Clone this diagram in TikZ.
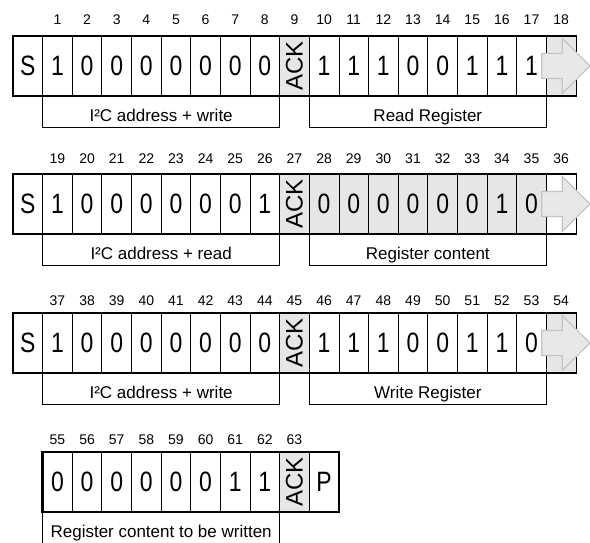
\documentclass[tikz,border=0pt]{standalone}
\usepackage{fontspec}
\setmainfont{Liberation Sans}
\newfontfamily\narrowf[FakeStretch=0.82]{Liberation Sans}
\usepackage{graphicx}
\definecolor{ackgrey}{HTML}{E6E6E6}
\definecolor{arrfill}{HTML}{E8E8E8}
\definecolor{arrdraw}{HTML}{C4C4C4}
\newcommand\ackt{\rotatebox{90}{\rmfamily\fontsize{24}{24}\selectfont ACK}}
\newcommand\cellrow[3]{%
  \foreach \i/\t/\f in {#3}{%
    \node[cell, fill=\f] (#1-\i) at ({13+\i*29.63},#2) {\t};}}
\newcommand\numrow[4]{%
  \foreach \i in {1,...,#3}{%
    \pgfmathtruncatemacro\n{\i+#4}%
    \node[num] (#1n\i) at ({13+\i*29.63+14.815},#2) {\n};}}
\newcommand\arrowat[1]{%
  \draw[arr, shift={(#1.center)}] (-19.5,-12.5) -- (1.1,-12.5) -- (1.1,-27.5) -- (28.8,0) -- (1.1,27.5) -- (1.1,12.5) -- (-19.5,12.5) -- cycle;}
\begin{document}
\begin{tikzpicture}[x=1pt,y=-1pt,
  cell/.style={draw=black,line width=0.8pt,anchor=north west,minimum width=29.63pt,minimum height=60pt,inner sep=0pt,outer sep=0pt,font=\narrowf\fontsize{28}{28}\selectfont},
  num/.style={inner sep=0pt,font=\fontsize{14}{14}\selectfont},
  lbl/.style={draw=black,line width=0.8pt,anchor=north west,minimum width=237.04pt,minimum height=31.5pt,inner sep=0pt,outer sep=0pt,text height=20pt,text depth=0pt,font=\fontsize{17}{17}\selectfont},
  frame/.style={line width=2.6pt,line cap=rect},
  arr/.style={fill=arrfill,draw=arrdraw,line width=1.2pt,line join=miter}]
\useasboundingbox (0,0) rectangle (590,543);

% ---------- row 1 ----------
\cellrow{a}{36}{0/S/white,1/1/white,2/0/white,3/0/white,4/0/white,5/0/white,6/0/white,7/0/white,8/0/white,9/\ackt/ackgrey,10/1/white,11/1/white,12/1/white,13/0/white,14/0/white,15/1/white,16/1/white,17/1/white,18//ackgrey}
\numrow{a}{20}{18}{0}
\node[lbl] (al1) at (a-1.south west) {I²C address + write};
\node[lbl] (al2) at (a-10.south west) {Read Register};
\draw[frame] (a-18.north east) -- (a-0.north west) -- (a-0.south west) -- (a-18.south east);
\arrowat{a-18}

% ---------- row 2 ----------
\cellrow{b}{174}{0/S/white,1/1/white,2/0/white,3/0/white,4/0/white,5/0/white,6/0/white,7/0/white,8/1/white,9/\ackt/ackgrey,10/0/ackgrey,11/0/ackgrey,12/0/ackgrey,13/0/ackgrey,14/0/ackgrey,15/0/ackgrey,16/1/ackgrey,17/0/ackgrey,18//white}
\numrow{b}{158.5}{18}{18}
\node[lbl] (bl1) at (b-1.south west) {I²C address + read};
\node[lbl] (bl2) at (b-10.south west) {Register content};
\draw[frame] (b-18.north east) -- (b-0.north west) -- (b-0.south west) -- (b-18.south east);
\arrowat{b-18}

% ---------- row 3 ----------
\cellrow{c}{313}{0/S/white,1/1/white,2/0/white,3/0/white,4/0/white,5/0/white,6/0/white,7/0/white,8/0/white,9/\ackt/ackgrey,10/1/white,11/1/white,12/1/white,13/0/white,14/0/white,15/1/white,16/1/white,17/0/white,18//ackgrey}
\numrow{c}{300.5}{18}{36}
\node[lbl] (cl1) at (c-1.south west) {I²C address + write};
\node[lbl] (cl2) at (c-10.south west) {Write Register};
\draw[frame] (c-18.north east) -- (c-0.north west) -- (c-0.south west) -- (c-18.south east);
\arrowat{c-18}

% ---------- row 4 ----------
\cellrow{d}{452}{1/0/white,2/0/white,3/0/white,4/0/white,5/0/white,6/0/white,7/1/white,8/1/white,9/\ackt/ackgrey,10/P/white}
\numrow{d}{440}{9}{54}
\node[lbl] (dl1) at (d-1.south west) {Register content to be written};
\draw[frame] (d-1.north west) rectangle (d-10.south east);
\end{tikzpicture}
\end{document}
